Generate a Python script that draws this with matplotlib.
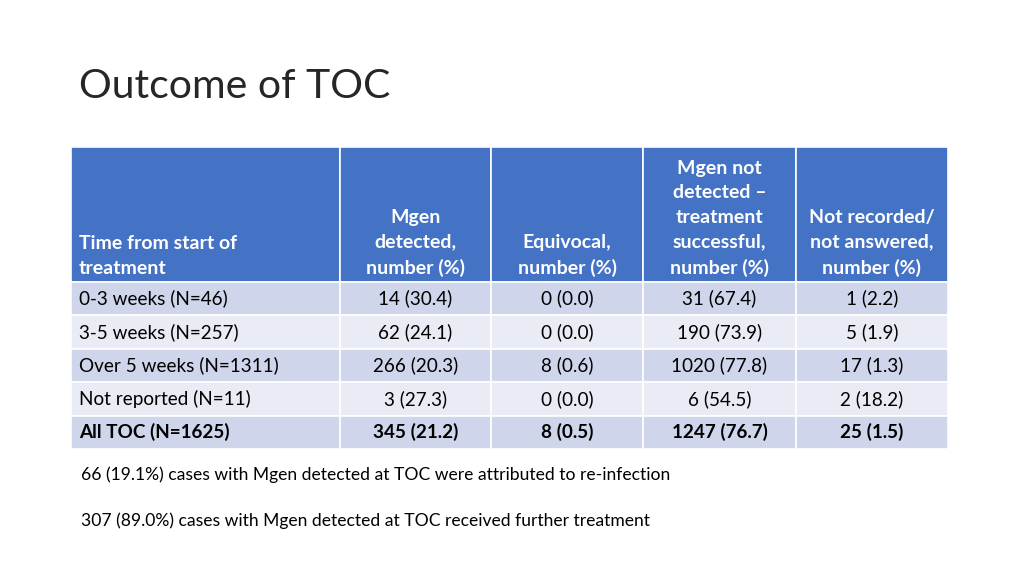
import matplotlib.pyplot as plt
from matplotlib.patches import Rectangle

plt.rcParams['font.family'] = ['Lato', 'DejaVu Sans']

# table content
title = "Outcome of TOC"
headers = ["Time from start of\ntreatment",
           "Mgen\ndetected,\nnumber (%)",
           "Equivocal,\nnumber (%)",
           "Mgen not\ndetected \u2013\ntreatment\nsuccessful,\nnumber (%)",
           "Not recorded/\nnot answered,\nnumber (%)"]
row_labels = ["0-3 weeks (N=46)", "3-5 weeks (N=257)", "Over 5 weeks (N=1311)",
              "Not reported (N=11)", "All TOC (N=1625)"]
detected = ["14 (30.4)", "62 (24.1)", "266 (20.3)", "3 (27.3)", "345 (21.2)"]
equivocal = ["0 (0.0)", "0 (0.0)", "8 (0.6)", "0 (0.0)", "8 (0.5)"]
not_detected = ["31 (67.4)", "190 (73.9)", "1020 (77.8)", "6 (54.5)", "1247 (76.7)"]
not_recorded = ["1 (2.2)", "5 (1.9)", "17 (1.3)", "2 (18.2)", "25 (1.5)"]
notes = ["66 (19.1%) cases with Mgen detected at TOC were attributed to re-infection",
         "307 (89.0%) cases with Mgen detected at TOC received further treatment"]

# layout (pixels)
col_edges = [71, 340, 491, 643, 796, 948]
header_top, header_bottom = 147, 282
row_h = 33.4
header_col = "#4472C4"
band = ["#CFD5EA", "#E9EBF5"]

fig = plt.figure(figsize=(10.24, 5.76), dpi=100)
ax = fig.add_axes([0, 0, 1, 1])
ax.set_xlim(0, 1024)
ax.set_ylim(576, 0)
ax.axis('off')

ax.text(79, 86, title, fontsize=29.5, color="#262626",
        va='center', ha='left')

columns = [row_labels, detected, equivocal, not_detected, not_recorded]

for c in range(5):
    x0, x1 = col_edges[c], col_edges[c + 1]
    ax.add_patch(Rectangle((x0, header_top), x1 - x0, header_bottom - header_top,
                           facecolor=header_col, edgecolor='white', lw=1.2))
    if c == 0:
        ax.text(x0 + 8, header_bottom - 5, headers[c], color='white', fontsize=14,
                fontweight='bold', ha='left', va='bottom', linespacing=1.55)
    else:
        ax.text((x0 + x1) / 2, header_bottom - 5, headers[c], color='white', fontsize=14,
                fontweight='bold', ha='center', va='bottom', linespacing=1.55,
                multialignment='center')
    for r, val in enumerate(columns[c]):
        y0 = header_bottom + r * row_h
        ax.add_patch(Rectangle((x0, y0), x1 - x0, row_h, facecolor=band[r % 2],
                               edgecolor='white', lw=1.2))
        bold = 'bold' if r == len(row_labels) - 1 else 'normal'
        if c == 0:
            ax.text(x0 + 8, y0 + row_h / 2, val, fontsize=13.6, color='black',
                    ha='left', va='center', fontweight=bold)
        else:
            ax.text((x0 + x1) / 2, y0 + row_h / 2, val, fontsize=13.6, color='black',
                    ha='center', va='center', fontweight=bold)

for i, note in enumerate(notes):
    ax.text(81, 475 + i * 46, note, fontsize=12.6, color='black', ha='left', va='center')

fig.savefig("out.png", dpi=100, facecolor='white')
